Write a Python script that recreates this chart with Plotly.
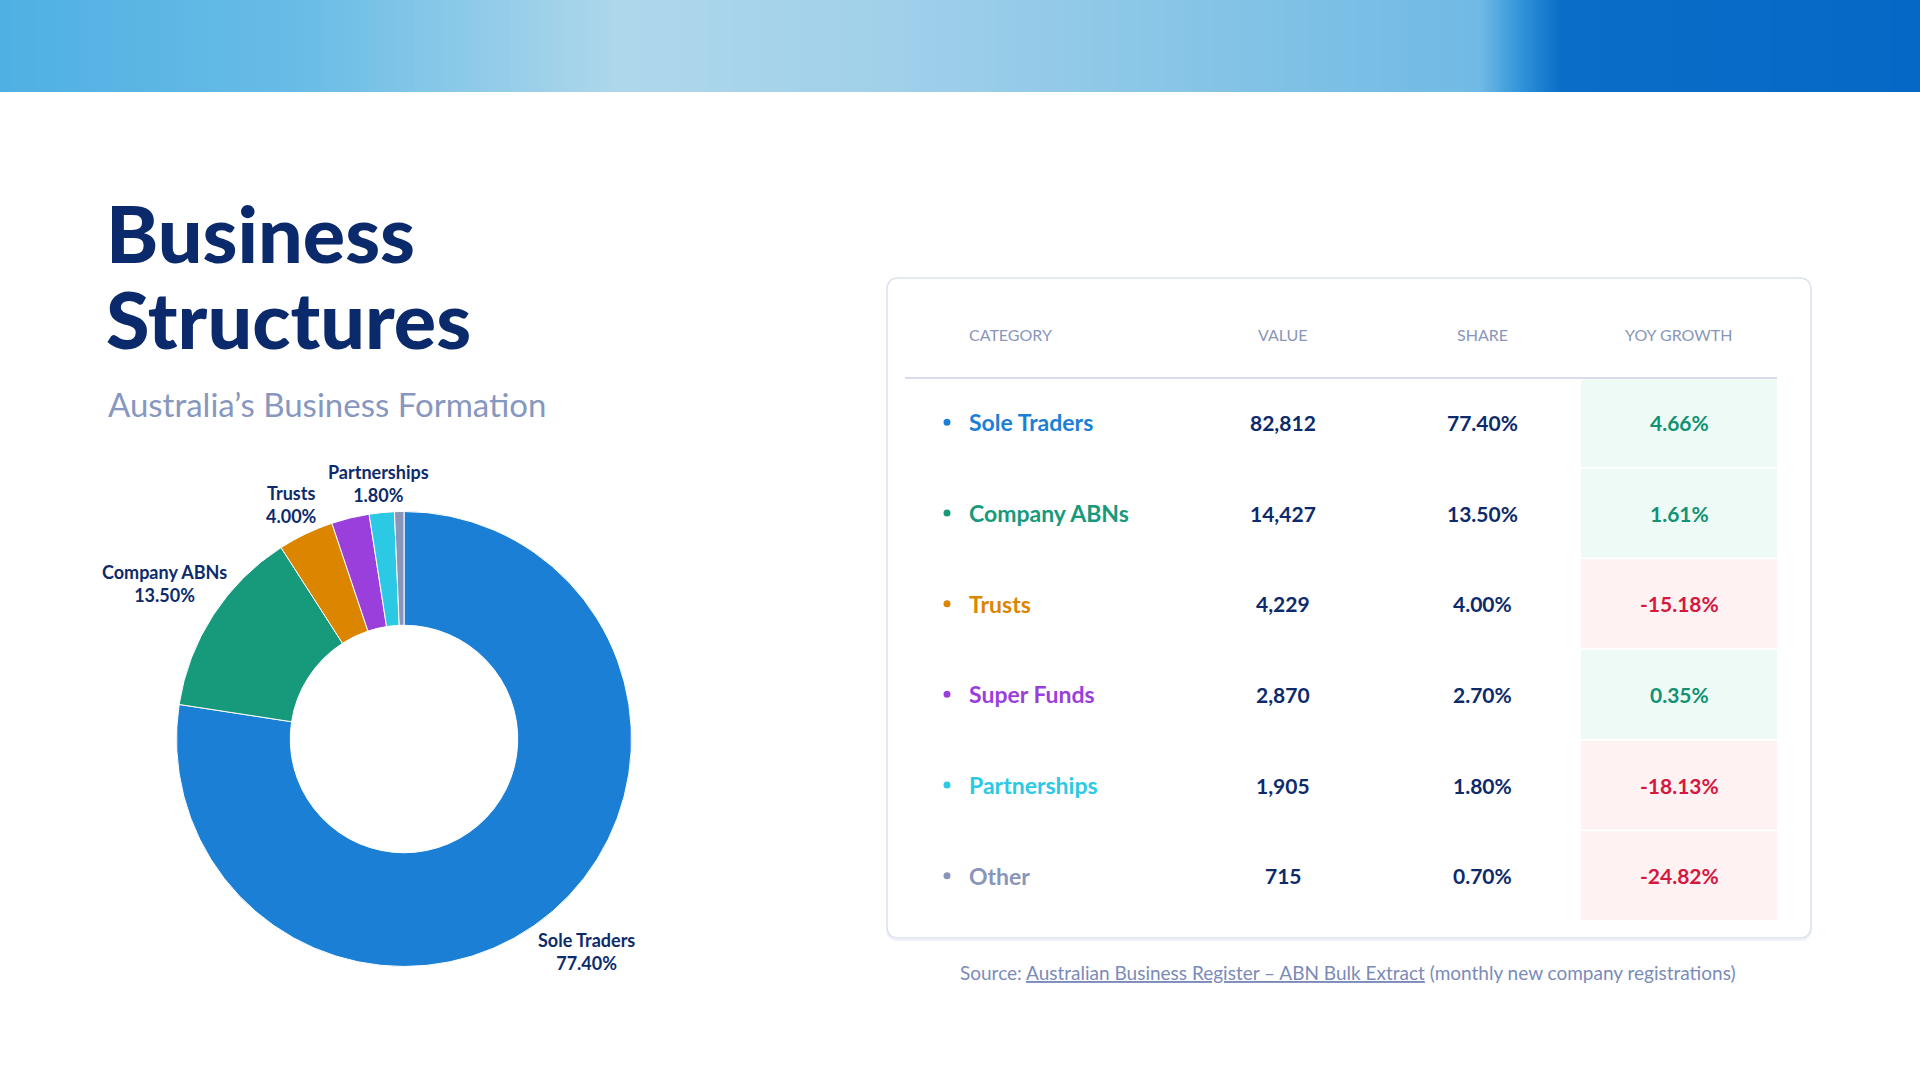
import math
import plotly.graph_objects as go

W, H = 1920, 1080

# ---------------- data ----------------
categories = ["Sole Traders", "Company ABNs", "Trusts", "Super Funds", "Partnerships", "Other"]
values = [82812, 14427, 4229, 2870, 1905, 715]
shares = [77.40, 13.50, 4.00, 2.70, 1.80, 0.70]
yoy_growth = [4.66, 1.61, -15.18, 0.35, -18.13, -24.82]
colors = ["#1b80d5", "#179a7b", "#dc8500", "#9a3fdc", "#2bc9e3", "#8995b9"]
header_labels = ["CATEGORY", "VALUE", "SHARE", "YOY GROWTH"]
hidden_pie_labels = {"Super Funds", "Other"}

NAVY = "#0d2b6b"
MUTED = "#8a96b8"
FONT = "Lato"


def px(x):
    return x / W


def py(y):
    return 1 - y / H


fig = go.Figure()
shapes = []
annotations = []

# ---------------- header gradient band ----------------
stops = [(0, (79, 176, 227)), (300, (104, 188, 230)), (620, (174, 215, 235)),
         (900, (160, 208, 234)), (1200, (134, 196, 230)), (1480, (112, 186, 229)),
         (1520, (50, 148, 216)), (1560, (10, 110, 200)), (1920, (5, 104, 198))]


def grad(x):
    for (x0, c0), (x1, c1) in zip(stops[:-1], stops[1:]):
        if x0 <= x <= x1:
            t = (x - x0) / (x1 - x0)
            return "rgb(%d,%d,%d)" % tuple(round(a + (b - a) * t) for a, b in zip(c0, c1))
    return "rgb(%d,%d,%d)" % stops[-1][1]


x = 0
while x < W:
    step = 2 if 1460 <= x < 1580 else 6
    shapes.append(dict(type="rect", xref="paper", yref="paper",
                       x0=px(x), x1=px(x + step + 0.5), y0=py(92), y1=py(0),
                       fillcolor=grad(x + step / 2), line=dict(width=0), layer="below"))
    x += step

# ---------------- titles ----------------
for txt, yc in (("Business", 232), ("Structures", 318)):
    annotations.append(dict(text=txt, x=px(104), y=py(yc), xref="paper", yref="paper",
                            xanchor="left", yanchor="middle", showarrow=False, height=82,
                            font=dict(family=FONT, size=79, color="#0b2a6b", weight=900)))
annotations.append(dict(text="Australia’s Business Formation", x=px(106), y=py(404),
                        xref="paper", yref="paper", xanchor="left", yanchor="middle",
                        showarrow=False, font=dict(family=FONT, size=33, color="#8797c0")))

# ---------------- donut ----------------
cx, cy, R = 404, 739, 227.5
fig.add_trace(go.Pie(
    labels=categories, values=values, hole=0.5, sort=False, direction="clockwise",
    rotation=0, textinfo="none", showlegend=False, hoverinfo="label+percent",
    marker=dict(colors=colors, line=dict(color="white", width=1)),
    domain=dict(x=[px(cx - R), px(cx + R)], y=[py(cy + R), py(cy - R)]),
))

total = sum(values)
cum = 0
LBL_SIZE = 18
for cat, v, s in zip(categories, values, shares):
    mid = (cum + v / 2) / total * 2 * math.pi
    cum += v
    if cat in hidden_pie_labels:
        continue
    pct = f"{s:.2f}%"
    half_w = max(len(cat), len(pct)) * 8.5 / 2
    half_h = 20
    d = R + abs(math.sin(mid)) * half_w + abs(math.cos(mid)) * half_h + 4
    lx = cx + math.sin(mid) * d
    ly = cy - math.cos(mid) * d
    annotations.append(dict(text=f"<b>{cat}</b><br><b>{pct}</b>", x=px(lx), y=py(ly),
                            xref="paper", yref="paper", xanchor="center", yanchor="middle",
                            showarrow=False, align="center",
                            font=dict(family=FONT, size=LBL_SIZE, color=NAVY)))

# ---------------- table card ----------------
x0, x1, y0, y1, r = 887, 1811, 278, 938, 12


def rounded(x0, y0, x1, y1, r):
    pts = [f"M {px(x0 + r)} {py(y0)}", f"L {px(x1 - r)} {py(y0)}",
           f"Q {px(x1)} {py(y0)} {px(x1)} {py(y0 + r)}", f"L {px(x1)} {py(y1 - r)}",
           f"Q {px(x1)} {py(y1)} {px(x1 - r)} {py(y1)}", f"L {px(x0 + r)} {py(y1)}",
           f"Q {px(x0)} {py(y1)} {px(x0)} {py(y1 - r)}", f"L {px(x0)} {py(y0 + r)}",
           f"Q {px(x0)} {py(y0)} {px(x0 + r)} {py(y0)}", "Z"]
    return " ".join(pts)


shapes.append(dict(type="path", xref="paper", yref="paper", path=rounded(x0, y0 + 2, x1, y1 + 2, r),
                   fillcolor="rgba(0,0,0,0)", line=dict(color="#eef1f7", width=2), layer="below"))
shapes.append(dict(type="path", xref="paper", yref="paper", path=rounded(x0, y0, x1, y1, r),
                   fillcolor="white", line=dict(color="#dce2ee", width=1.5), layer="below"))

col_x = [967, 1283, 1482, 1679]
header_y = 334
for i, h in enumerate(header_labels):
    annotations.append(dict(text=h, x=px(col_x[i]), y=py(header_y), xref="paper", yref="paper",
                            xanchor="left" if i == 0 else "center", yanchor="middle",
                            showarrow=False, font=dict(family=FONT, size=16, color=MUTED)))

shapes.append(dict(type="line", xref="paper", yref="paper", x0=px(905), x1=px(1777),
                   y0=py(378), y1=py(378), line=dict(color="#c9d0e4", width=1.5)))

row_top, row_bot = 377, 921
rh = (row_bot - row_top) / len(categories)
for i, (cat, v, s, g, c) in enumerate(zip(categories, values, shares, yoy_growth, colors)):
    t = row_top + i * rh
    ym = t + rh / 2
    pos = g >= 0
    shapes.append(dict(type="rect", xref="paper", yref="paper", x0=px(1581), x1=px(1777),
                       y0=py(t + rh - 1), y1=py(max(t + 1, 380)),
                       fillcolor="#eefaf6" if pos else "#fef2f2", line=dict(width=0),
                       layer="below"))
    shapes.append(dict(type="circle", xref="paper", yref="paper", x0=px(943.5), x1=px(950.5),
                       y0=py(ym + 3.5), y1=py(ym - 3.5), fillcolor=c, line=dict(width=0)))
    annotations.append(dict(text=f"<b>{cat}</b>", x=px(col_x[0]), y=py(ym), xref="paper",
                            yref="paper", xanchor="left", yanchor="middle", showarrow=False,
                            font=dict(family=FONT, size=23, color=c)))
    annotations.append(dict(text=f"<b>{v:,}</b>", x=px(col_x[1]), y=py(ym), xref="paper",
                            yref="paper", xanchor="center", yanchor="middle", showarrow=False,
                            font=dict(family=FONT, size=21, color=NAVY)))
    annotations.append(dict(text=f"<b>{s:.2f}%</b>", x=px(col_x[2]), y=py(ym), xref="paper",
                            yref="paper", xanchor="center", yanchor="middle", showarrow=False,
                            font=dict(family=FONT, size=21, color=NAVY)))
    annotations.append(dict(text=f"<b>{g:.2f}%</b>", x=px(col_x[3]), y=py(ym), xref="paper",
                            yref="paper", xanchor="center", yanchor="middle", showarrow=False,
                            font=dict(family=FONT, size=21, color="#129273" if pos else "#d4183f")))

# ---------------- source ----------------
annotations.append(dict(
    text="Source: <u>Australian Business Register – ABN Bulk Extract</u> (monthly new company registrations)",
    x=px(1348), y=py(972), xref="paper", yref="paper", xanchor="center", yanchor="middle",
    showarrow=False, font=dict(family=FONT, size=19, color="#7b8bb8")))

fig.update_layout(
    width=W, height=H, margin=dict(l=0, r=0, t=0, b=0),
    paper_bgcolor="white", plot_bgcolor="white",
    shapes=shapes, annotations=annotations,
    xaxis=dict(visible=False), yaxis=dict(visible=False),
)

fig.write_html("out.html", config={"displayModeBar": False},
               post_script="document.body.style.margin='0';document.body.style.overflow='hidden';")
